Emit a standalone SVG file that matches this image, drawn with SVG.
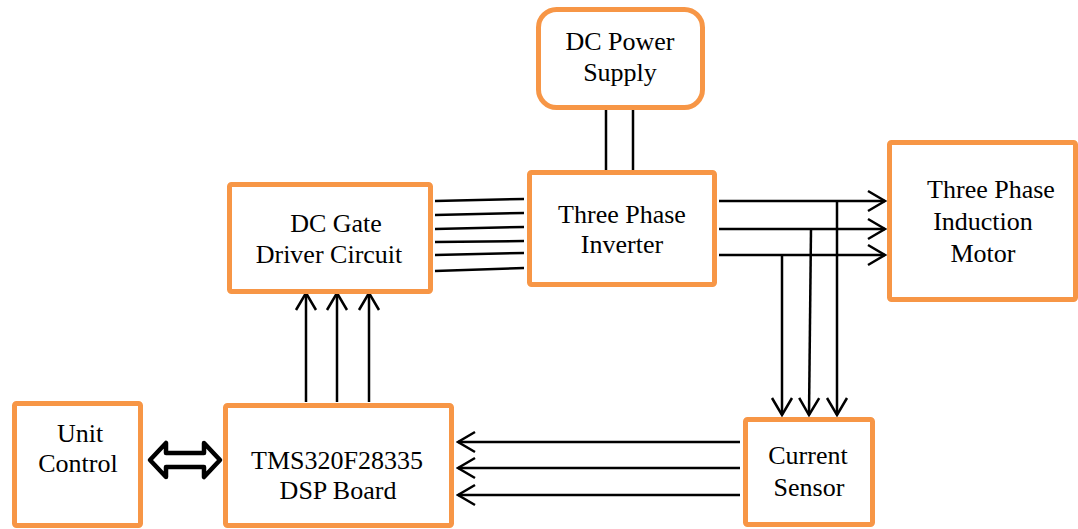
<svg xmlns="http://www.w3.org/2000/svg" width="1078" height="529" viewBox="0 0 1078 529">
<style>
.box{fill:#fff;stroke:#F79646;stroke-width:5;}
.t{font-family:'Liberation Serif','DejaVu Serif',serif;font-size:26px;fill:#000;text-anchor:middle;}
.ln{stroke:#000;stroke-width:2.5;fill:none;}
.ar{stroke:#000;stroke-width:2.5;fill:none;marker-end:url(#chev);}
</style>
<defs>
<marker id="chev" markerUnits="userSpaceOnUse" markerWidth="22" markerHeight="26" viewBox="0 0 22 26" refX="20" refY="13" orient="auto">
<path d="M3,3 L20,13 L3,23" fill="none" stroke="#000" stroke-width="2.5"/>
</marker>
</defs>
<rect width="1078" height="529" fill="#fff"/>
<g id="connectors">
<line class="ln" x1="606" y1="110" x2="606" y2="170"/>
<line class="ln" x1="633" y1="110" x2="633" y2="170"/>
<line class="ln" x1="435" y1="201" x2="524" y2="199"/>
<line class="ln" x1="435" y1="215" x2="524" y2="213"/>
<line class="ln" x1="435" y1="229" x2="524" y2="227"/>
<line class="ln" x1="435" y1="242" x2="524" y2="241"/>
<line class="ln" x1="435" y1="255" x2="524" y2="253"/>
<line class="ln" x1="435" y1="271" x2="524" y2="268"/>
<line class="ar" x1="719" y1="201" x2="885" y2="201"/>
<line class="ar" x1="719" y1="229" x2="885" y2="229"/>
<line class="ar" x1="719" y1="255" x2="885" y2="255"/>
<line class="ar" x1="837" y1="201" x2="837" y2="415"/>
<line class="ar" x1="811" y1="229" x2="809" y2="415"/>
<line class="ar" x1="782" y1="255" x2="782" y2="415"/>
<line class="ar" x1="740" y1="442" x2="458" y2="442"/>
<line class="ar" x1="740" y1="468" x2="458" y2="468"/>
<line class="ar" x1="740" y1="495" x2="458" y2="495"/>
<line class="ar" x1="306" y1="402" x2="306" y2="293"/>
<line class="ar" x1="337" y1="402" x2="337" y2="293"/>
<line class="ar" x1="369" y1="402" x2="369" y2="293"/>
<path d="M150,460 L166,443 L166,453 L204,453 L204,443 L220,460 L204,477 L204,467 L166,467 L166,477 Z" fill="#fff" stroke="#000" stroke-width="4.5" stroke-linejoin="round"/>
</g>
<g id="dc-power-supply">
<rect class="box" x="538.5" y="9.5" width="164" height="98" rx="18"/>
<text class="t" x="620" y="50">DC Power</text>
<text class="t" x="620" y="81">Supply</text>
</g>
<g id="three-phase-inverter">
<rect class="box" x="529.5" y="172.5" width="185" height="112" rx="2"/>
<text class="t" x="622" y="223">Three Phase</text>
<text class="t" x="622" y="253">Inverter</text>
</g>
<g id="dc-gate-driver">
<rect class="box" x="229.5" y="184.5" width="201" height="107" rx="2"/>
<text class="t" x="336" y="232">DC Gate</text>
<text class="t" x="329" y="263">Driver Circuit</text>
</g>
<g id="induction-motor">
<rect class="box" x="889.5" y="142.5" width="186" height="157" rx="2"/>
<text class="t" x="991" y="198">Three Phase</text>
<text class="t" x="983" y="230">Induction</text>
<text class="t" x="983" y="262">Motor</text>
</g>
<g id="current-sensor">
<rect class="box" x="745.5" y="419.5" width="127" height="105" rx="2"/>
<text class="t" x="808" y="464">Current</text>
<text class="t" x="809" y="496">Sensor</text>
</g>
<g id="dsp-board">
<rect class="box" x="225.5" y="405.5" width="226" height="120" rx="2"/>
<text class="t" x="337" y="469">TMS320F28335</text>
<text class="t" x="338" y="499">DSP Board</text>
</g>
<g id="unit-control">
<rect class="box" x="14.5" y="403.5" width="126" height="122" rx="2"/>
<text class="t" x="80" y="442">Unit</text>
<text class="t" x="78" y="472">Control</text>
</g>
</svg>
